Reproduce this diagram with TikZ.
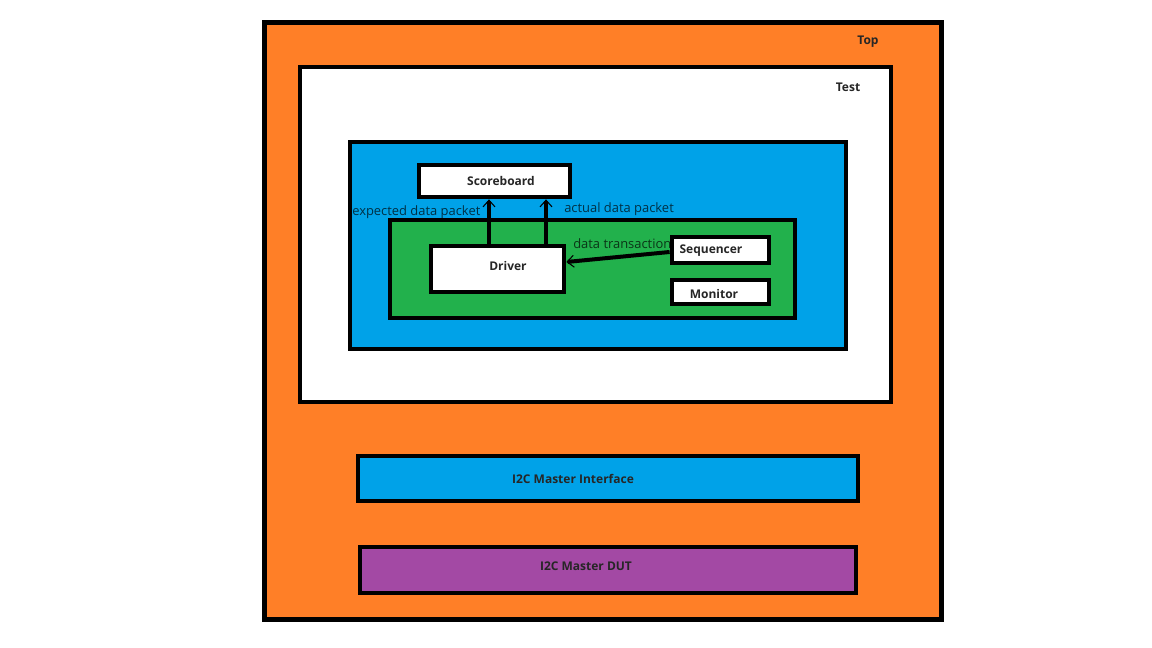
\documentclass[tikz,border=0pt]{standalone}
\usepackage{fontspec}
\setmainfont{Open Sans}
\usetikzlibrary{arrows.meta}
\definecolor{orangeF}{HTML}{FF7F27}
\definecolor{blueF}{HTML}{00A2E8}
\definecolor{greenF}{HTML}{22B14C}
\definecolor{purpleF}{HTML}{A349A4}
\tikzset{
  blk/.style={draw=black, line width=3.6pt, inner sep=0pt},
  ttl/.style={font=\bfseries\fontsize{9}{10}\selectfont, text=black!85},
  lbl/.style={font=\fontsize{9.7}{11}\selectfont, text=black, text opacity=0.7, inner sep=0pt},
  link/.style={draw=black, line width=3pt, -{Straight Barb[length=5pt,width=9pt,line width=0.8pt]}},
}
\begin{document}
\begin{tikzpicture}[x=0.75pt,y=-0.75pt]
\useasboundingbox (0,0) rectangle (1152,648);
% containers
\draw[blk, fill=orangeF] (264.5,22.5) rectangle (941.5,619.5);
\node[ttl] (toplbl) at (868,42) {Top};
\draw[blk, fill=white] (300,67) rectangle (891,402);
\node[ttl] (testlbl) at (848,87) {Test};
\draw[blk, fill=blueF] (350,142) rectangle (846,349);
\draw[blk, fill=greenF] (390,220) rectangle (795,318);
% inner boxes
\node[blk, fill=white, minimum width=151*0.75pt, minimum height=32*0.75pt] (sb) at (494.5,181) {};
\node[ttl] (sblbl) at (501,181) {Scoreboard};
\node[blk, fill=white, minimum width=133*0.75pt, minimum height=46*0.75pt] (drv) at (497.5,269) {};
\node[ttl] (drvlbl) at (508,266) {Driver};
\node[blk, fill=white, minimum width=97*0.75pt, minimum height=26*0.75pt] (seq) at (720.5,250) {};
\node[ttl] (seqlbl) at (711,251) {Sequencer};
\node[blk, fill=white, minimum width=97*0.75pt, minimum height=24*0.75pt] (mon) at (720.5,292) {};
\node[ttl] (monlbl) at (714,294) {Monitor};
\node[blk, fill=blueF, minimum width=500*0.75pt, minimum height=45*0.75pt] (ifc) at (608,478.5) {};
\node[ttl] (ifclbl) at (573,479) {I2C Master Interface};
\node[blk, fill=purpleF, minimum width=496*0.75pt, minimum height=46*0.75pt] (dut) at (608,570) {};
\node[ttl] (dutlbl) at (586,566) {I2C Master DUT};
% connectors
\draw[link] (drv.north -| 489,0) -- (sb.south -| 489,0);
\draw[link] (drv.north -| 546,0) -- (sb.south -| 546,0);
\draw[link] (seq.west |- 0,252) -- (drv.east |- 0,262);
% labels
\node[lbl, anchor=west] (l1) at (352,212) {expected data packet};
\node[lbl, anchor=west] (l2) at (564,209) {actual data packet};
\node[lbl, anchor=west] (l3) at (573,244) {data transaction};
\end{tikzpicture}
\end{document}
